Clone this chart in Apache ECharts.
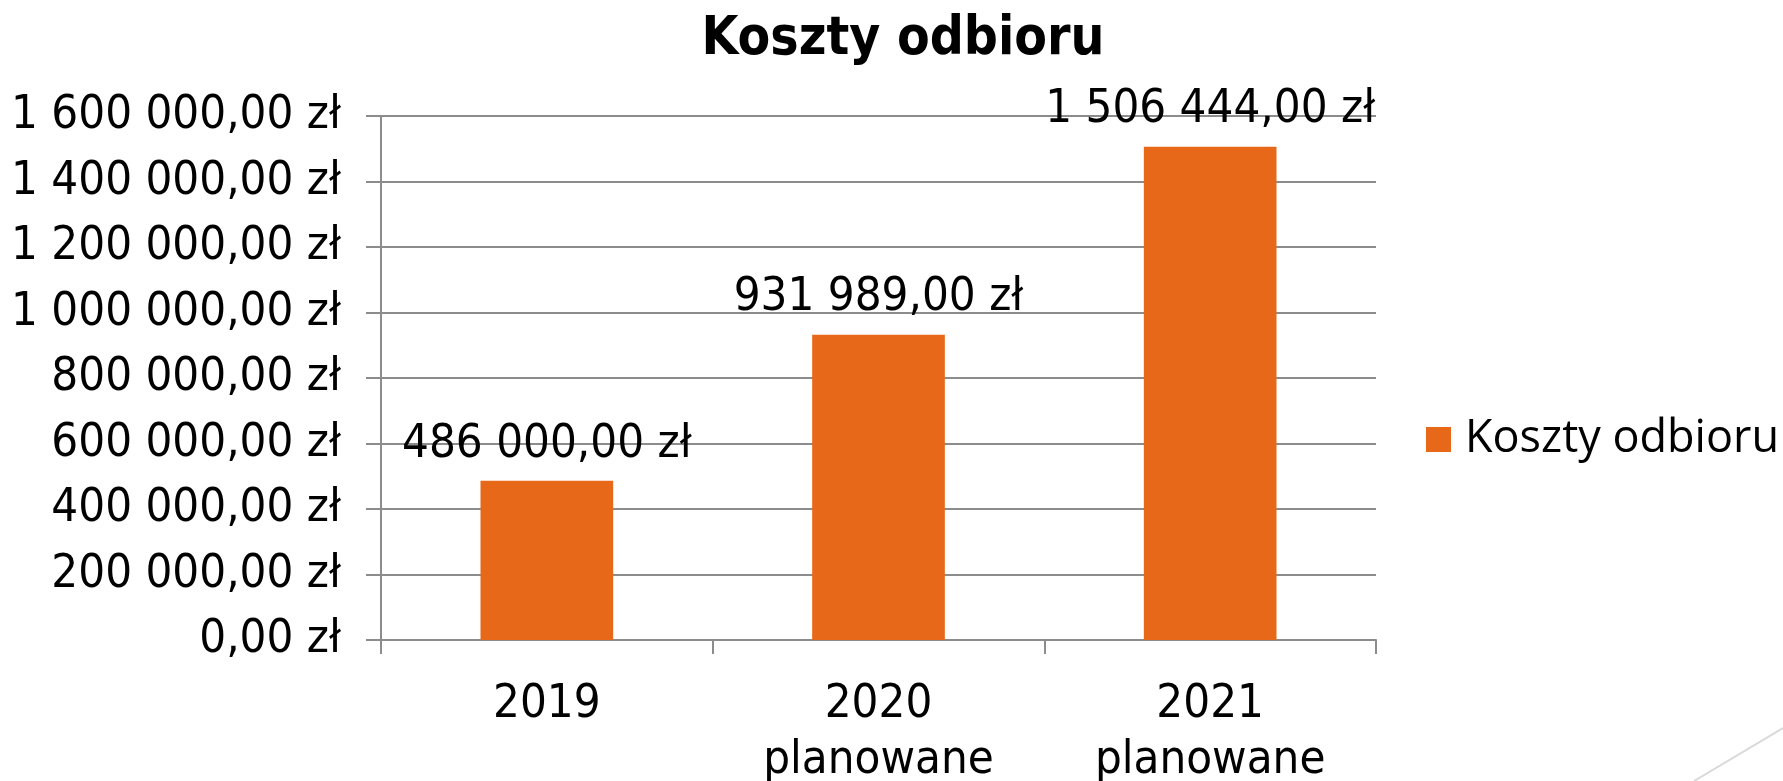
<!DOCTYPE html>
<html><head><meta charset="utf-8">
<script src="https://cdn.jsdelivr.net/npm/echarts@6/dist/echarts.min.js"></script>
<style>html,body{margin:0;padding:0;background:#fff}#c{width:1783px;height:781px}</style>
</head><body><div id="c"></div>
<script>
const title = 'Koszty odbioru';
const seriesName = 'Koszty odbioru';
const categories = ['2019', '2020\nplanowane', '2021\nplanowane'];
const values = [486000, 931989, 1506444];
const yMin = 0, yMax = 1600000, yInterval = 200000;

function fmt(v) {
  const parts = Number(v).toFixed(2).split('.');
  const intPart = parts[0].replace(/\B(?=(\d{3})+(?!\d))/g, ' ');
  return intPart + ',' + parts[1] + ' zł';
}

const FONT = '"DejaVu Sans Condensed", "DejaVu Sans", sans-serif';
const chart = echarts.init(document.getElementById('c'));
chart.setOption({
  animation: false,
  backgroundColor: '#ffffff',
  title: {
    text: title, left: 898, textAlign: 'center', top: 9,
    textStyle: { fontFamily: FONT, fontWeight: 'bold', fontSize: 53, color: '#000' }
  },
  legend: {
    data: [seriesName], left: 1421, top: 412, orient: 'vertical',
    icon: 'rect', itemWidth: 25, itemHeight: 25, itemGap: 10,
    textStyle: { fontFamily: '"Open Sans", sans-serif', fontSize: 45, color: '#000', padding: [0, 0, 0, 9] }
  },
  grid: { left: 381, right: 407, top: 116, bottom: 141, containLabel: false, outerBoundsMode: 'none' },
  xAxis: {
    type: 'category', data: categories,
    axisLine: { lineStyle: { color: '#8c8c8c', width: 2 } },
    axisTick: { show: true, length: 14, lineStyle: { color: '#8c8c8c', width: 2 } },
    axisLabel: { fontFamily: FONT, fontSize: 47, color: '#000', margin: 37, lineHeight: 56 }
  },
  yAxis: {
    type: 'value', min: yMin, max: yMax, interval: yInterval,
    axisLine: { show: true, lineStyle: { color: '#8c8c8c', width: 2 } },
    axisTick: { show: true, length: 15, lineStyle: { color: '#8c8c8c', width: 2 } },
    splitLine: { lineStyle: { color: '#8c8c8c', width: 2 } },
    axisLabel: { fontFamily: FONT, fontSize: 47, color: '#000', margin: 40, formatter: fmt }
  },
  series: [{
    name: seriesName, type: 'bar', data: values, barWidth: '40%',
    itemStyle: { color: '#E8681A' },
    label: { show: true, position: 'top', distance: 13, formatter: p => fmt(p.value),
      fontFamily: FONT, fontSize: 47, color: '#000' }
  }],
  graphic: [{
    type: 'line', shape: { x1: 1694, y1: 781, x2: 1783, y2: 728 },
    style: { stroke: '#d9d9d9', lineWidth: 2 }, silent: true
  }]
});
</script></body></html>
